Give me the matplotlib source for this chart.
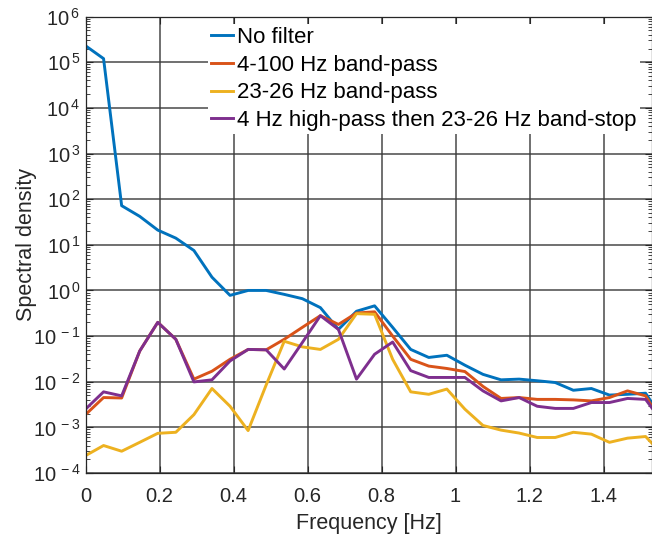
import math

import matplotlib
matplotlib.use("Agg")
import matplotlib.pyplot as plt
from matplotlib.ticker import LogLocator, FixedLocator, FuncFormatter, NullFormatter

plt.rcParams["font.family"] = ["Liberation Sans", "DejaVu Sans"]
plt.rcParams["mathtext.fontset"] = "custom"
plt.rcParams["mathtext.rm"] = "Liberation Sans"
plt.rcParams["mathtext.default"] = "regular"

# frequency bins [Hz]
freq = [0.0, 0.0488, 0.0977, 0.1465, 0.1953, 0.2441, 0.2930, 0.3418, 0.3906,
        0.4395, 0.4883, 0.5371, 0.5859, 0.6348, 0.6836, 0.7324, 0.7813, 0.8301,
        0.8789, 0.9277, 0.9766, 1.0254, 1.0742, 1.1230, 1.1719, 1.2207, 1.2695,
        1.3184, 1.3672, 1.4160, 1.4648, 1.5137, 1.5625]

no_filter = [2.3e5, 1.2e5, 72, 42, 21, 14, 7.5, 1.95, 0.78,
             1.0, 1.0, 0.82, 0.66, 0.42, 0.14, 0.35, 0.46, 0.155,
             0.051, 0.034, 0.038, 0.023, 0.0145, 0.011, 0.0114, 0.0105, 0.0096,
             0.0065, 0.0071, 0.0051, 0.0053, 0.0056, 0.0014]

bp_4_100 = [0.0019, 0.0045, 0.0044, 0.047, 0.2, 0.085, 0.0114, 0.017, 0.031,
            0.051, 0.05, 0.085, 0.155, 0.28, 0.18, 0.32, 0.34, 0.1,
            0.031, 0.022, 0.0195, 0.0167, 0.0079, 0.0043, 0.0045, 0.0041, 0.0041,
            0.0040, 0.0038, 0.0045, 0.0063, 0.0049, 0.0011]

bp_23_26 = [0.00024, 0.0004, 0.0003, 0.00047, 0.00074, 0.00078, 0.0019, 0.0071, 0.0029,
            0.00085, 0.0085, 0.077, 0.058, 0.051, 0.085, 0.31, 0.30, 0.031,
            0.006, 0.0053, 0.0069, 0.0025, 0.0011, 0.00087, 0.00075, 0.0006, 0.0006,
            0.00078, 0.00071, 0.00047, 0.00058, 0.00063, 0.00024]

hp_bs = [0.0025, 0.006, 0.0049, 0.047, 0.2, 0.085, 0.0099, 0.011, 0.0285,
         0.051, 0.05, 0.019, 0.072, 0.28, 0.14, 0.0114, 0.04, 0.074,
         0.0175, 0.0124, 0.0124, 0.0124, 0.0063, 0.0038, 0.0045, 0.0029, 0.0026,
         0.0026, 0.0035, 0.0035, 0.0043, 0.0041, 0.0012]

labels = ["No filter", "4-100 Hz band-pass", "23-26 Hz band-pass",
          "4 Hz high-pass then 23-26 Hz band-stop"]
colors = ["#0072BD", "#D95319", "#EDB120", "#7E2F8E"]

fig = plt.figure(figsize=(6.52, 5.34), dpi=100)
ax = fig.add_axes([85.5 / 652, 61 / 534, 566.5 / 652, 456.4 / 534])

for series, lab, col in zip([no_filter, bp_4_100, bp_23_26, hp_bs], labels, colors):
    ax.plot(freq, series, color=col, lw=2.1, label=lab)

ax.set_yscale("log")
ax.set_ylim(1e-4, 1e6)
ax.set_xlim(0, 1.531)

ax.yaxis.set_major_locator(LogLocator(base=10, numticks=20))
ax.yaxis.set_minor_locator(LogLocator(base=10, subs=range(2, 10), numticks=200))
ax.yaxis.set_minor_formatter(NullFormatter())
ax.yaxis.set_major_formatter(FuncFormatter(lambda v, p: r"$10^{\,%d}$" % round(math.log10(v))))
ax.xaxis.set_major_locator(FixedLocator([0, 0.2, 0.4, 0.6, 0.8, 1.0, 1.2, 1.4]))
ax.xaxis.set_major_formatter(FuncFormatter(lambda v, p: "%g" % round(v, 1)))

ax.grid(True, which="major", color="#3a3a3a", lw=1.2, alpha=0.85)
ax.tick_params(which="both", direction="in", top=True, right=True, labelsize=14.5,
               colors="#262626", labelcolor="#262626")
ax.tick_params(which="major", length=5, width=0.8)
ax.tick_params(which="minor", length=3, width=0.6)
ax.tick_params(axis="x", pad=10)
for s in ax.spines.values():
    s.set_color("#262626")
    s.set_linewidth(0.9)

ax.set_xlabel("Frequency [Hz]", fontsize=15.5, color="#262626", labelpad=5)
ax.set_ylabel("Spectral density", fontsize=15.5, color="#262626", labelpad=-3)

leg = ax.legend(loc="upper left", bbox_to_anchor=(122.5 / 566.5, 0.983), fontsize=16,
                frameon=True, fancybox=False, framealpha=1.0, edgecolor="none",
                handlelength=1.0, handletextpad=0.2, labelspacing=0.3,
                borderpad=0.12, borderaxespad=0.0)

fig.savefig("out.png", dpi=100)
